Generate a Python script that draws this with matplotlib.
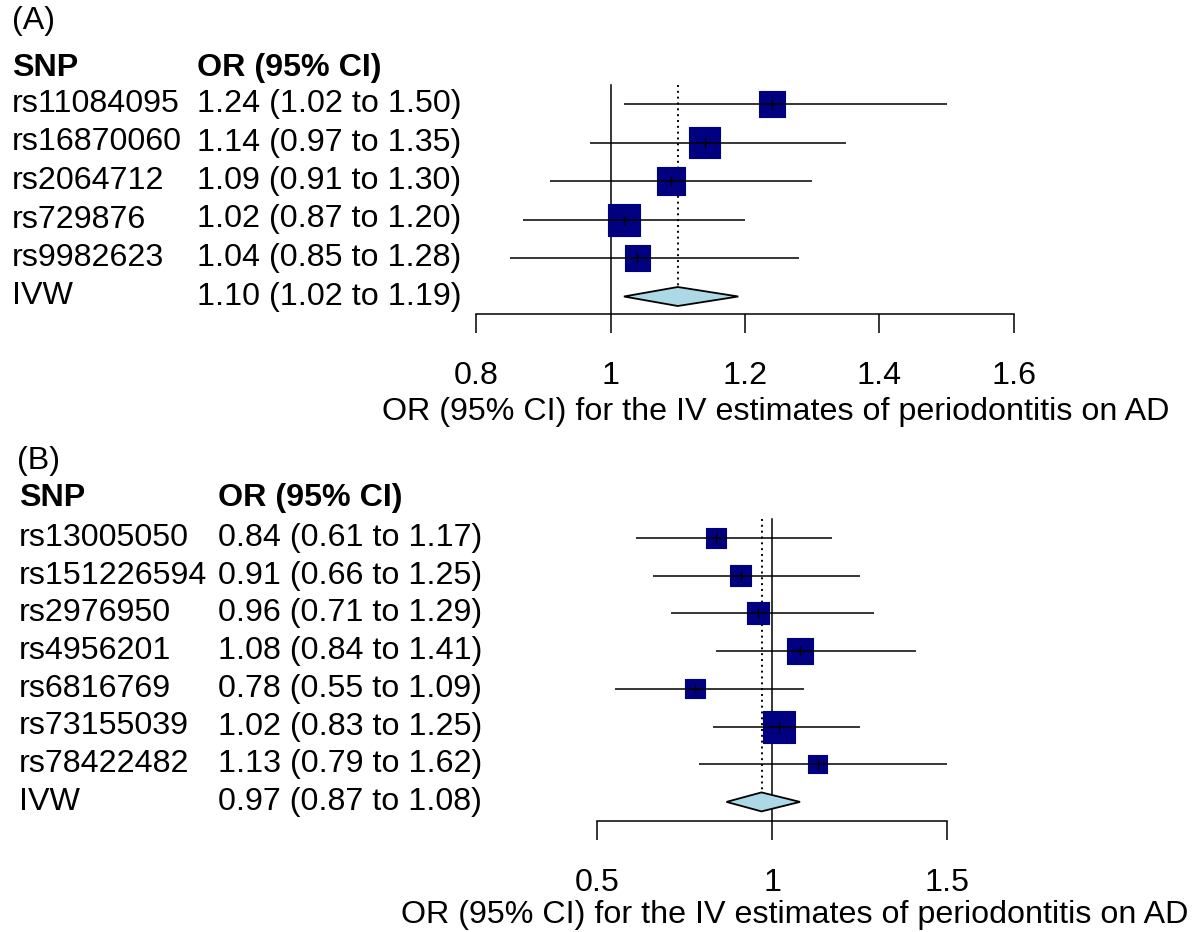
import numpy as np
import matplotlib
matplotlib.use("Agg")
import matplotlib.pyplot as plt
from matplotlib import transforms
from matplotlib.patches import Polygon

plt.rcParams['font.family'] = ['Liberation Sans', 'DejaVu Sans']

# ---------------- data ----------------
snps_a = ["rs11084095", "rs16870060", "rs2064712", "rs729876", "rs9982623"]
or_a = [1.24, 1.14, 1.09, 1.02, 1.04]
lo_a = [1.02, 0.97, 0.91, 0.87, 0.85]
hi_a = [1.50, 1.35, 1.30, 1.20, 1.28]
ivw_a = (1.10, 1.02, 1.19)
ticks_a = [0.8, 1.0, 1.2, 1.4, 1.6]
ticklabels_a = ["0.8", "1", "1.2", "1.4", "1.6"]

snps_b = ["rs13005050", "rs151226594", "rs2976950", "rs4956201", "rs6816769",
          "rs73155039", "rs78422482"]
or_b = [0.84, 0.91, 0.96, 1.08, 0.78, 1.02, 1.13]
lo_b = [0.61, 0.66, 0.71, 0.84, 0.55, 0.83, 0.79]
hi_b = [1.17, 1.25, 1.29, 1.41, 1.09, 1.25, 1.62]
ivw_b = (0.97, 0.87, 1.08)
ticks_b = [0.5, 1.0, 1.5]
ticklabels_b = ["0.5", "1", "1.5"]

xlabel = "OR (95% CI) for the IV estimates of periodontitis on AD"

W, H = 1193, 932
fig = plt.figure(figsize=(W / 100, H / 100), dpi=100)

FS = 23.2
BOX = "#000080"
DIAMOND = "#ADD8E6"


def fmt(v):
    return f"{v:.2f}"


def panel(px_left, px_right, px_top, px_axis, row0_px, row_sp, xlim,
          snps, ors, los, his, ivw, ticks, ticklabels,
          label, lab_x, name_x, or_x, xlab_cx, xlab_y, label_y, head_y):
    ax = fig.add_axes([px_left / W, 1 - px_axis / H,
                       (px_right - px_left) / W, (px_axis - px_top) / H])
    ybot = (px_axis - row0_px) / row_sp
    ytop = (px_top - row0_px) / row_sp
    ax.set_xlim(*xlim)
    ax.set_ylim(ybot, ytop)
    for s in ["top", "left", "right"]:
        ax.spines[s].set_visible(False)
    ax.spines["bottom"].set_bounds(xlim[0], xlim[1])
    ax.spines["bottom"].set_linewidth(1.1)
    ax.set_yticks([])
    ax.set_xticks(ticks)
    ax.set_xticklabels(ticklabels, fontsize=FS)
    ax.tick_params(axis="x", direction="out", length=14, width=1.1, pad=20)
    ax.patch.set_alpha(0)

    n = len(snps)
    ys = np.arange(n)
    y_ivw = n
    est, ilo, ihi = ivw

    # box sizes proportional to 1/SE (inverse-variance weights)
    se = (np.log(his) - np.log(los)) / 3.92
    side_px = 32 * (1 / se) / np.max(1 / se)
    side_pt = side_px * 0.72

    # reference lines
    ax.plot([1, 1], [-0.5, ybot], color="black", lw=1.1, zorder=1, clip_on=False)
    hh = 9.5 / row_sp
    ax.plot([est, est], [-0.5, y_ivw - hh], color="black", lw=1.4,
            linestyle=(0, (1, 2)), zorder=1)

    ax.scatter(ors, ys, marker="s", s=side_pt ** 2, color=BOX, linewidths=0.8,
               edgecolors=BOX, zorder=2)
    ax.hlines(ys, los, his, color="black", lw=1.1, zorder=3)
    ax.scatter(ors, ys, marker="|", s=45, color="black", linewidths=1.0, zorder=4)

    dia = Polygon([(ilo, y_ivw), (est, y_ivw - hh), (ihi, y_ivw), (est, y_ivw + hh)],
                  closed=True, facecolor=DIAMOND, edgecolor="black", lw=1.3, zorder=3)
    ax.add_patch(dia)

    tr = transforms.blended_transform_factory(fig.transFigure, ax.transData)
    labels_all = list(snps) + ["IVW"]
    texts_all = [f"{fmt(o)} ({fmt(l)} to {fmt(h)})" for o, l, h in zip(ors, los, his)]
    texts_all.append(f"{fmt(est)} ({fmt(ilo)} to {fmt(ihi)})")
    for i, (nm, tx) in enumerate(zip(labels_all, texts_all)):
        ax.text(name_x / W, i, nm, transform=tr, fontsize=FS, va="center",
                ha="left", clip_on=False)
        ax.text(or_x / W, i, tx, transform=tr, fontsize=FS, va="center",
                ha="left", clip_on=False)
    hy = (head_y - row0_px) / row_sp
    ax.text(name_x / W, hy, "SNP", transform=tr, fontsize=FS, va="center",
            ha="left", fontweight="bold", clip_on=False)
    ax.text(or_x / W, hy, "OR (95% CI)", transform=tr, fontsize=FS, va="center",
            ha="left", fontweight="bold", clip_on=False)
    fig.text(lab_x / W, 1 - label_y / H, label, fontsize=FS, va="center", ha="left")
    fig.text(xlab_cx / W, 1 - xlab_y / H, xlabel, fontsize=FS, va="center", ha="center")
    return ax


panel(476, 1014, 60, 314, 104, 38.5, (0.8, 1.6),
      snps_a, or_a, lo_a, hi_a, ivw_a, ticks_a, ticklabels_a,
      "(A)", 12, 12, 197, 776, 412, 21, 68)

panel(597, 947, 490, 821, 538, 37.7, (0.5, 1.5),
      snps_b, or_b, lo_b, hi_b, ivw_b, ticks_b, ticklabels_b,
      "(B)", 17, 19, 218, 795, 915, 461, 498)

fig.savefig("out.png", dpi=100)
